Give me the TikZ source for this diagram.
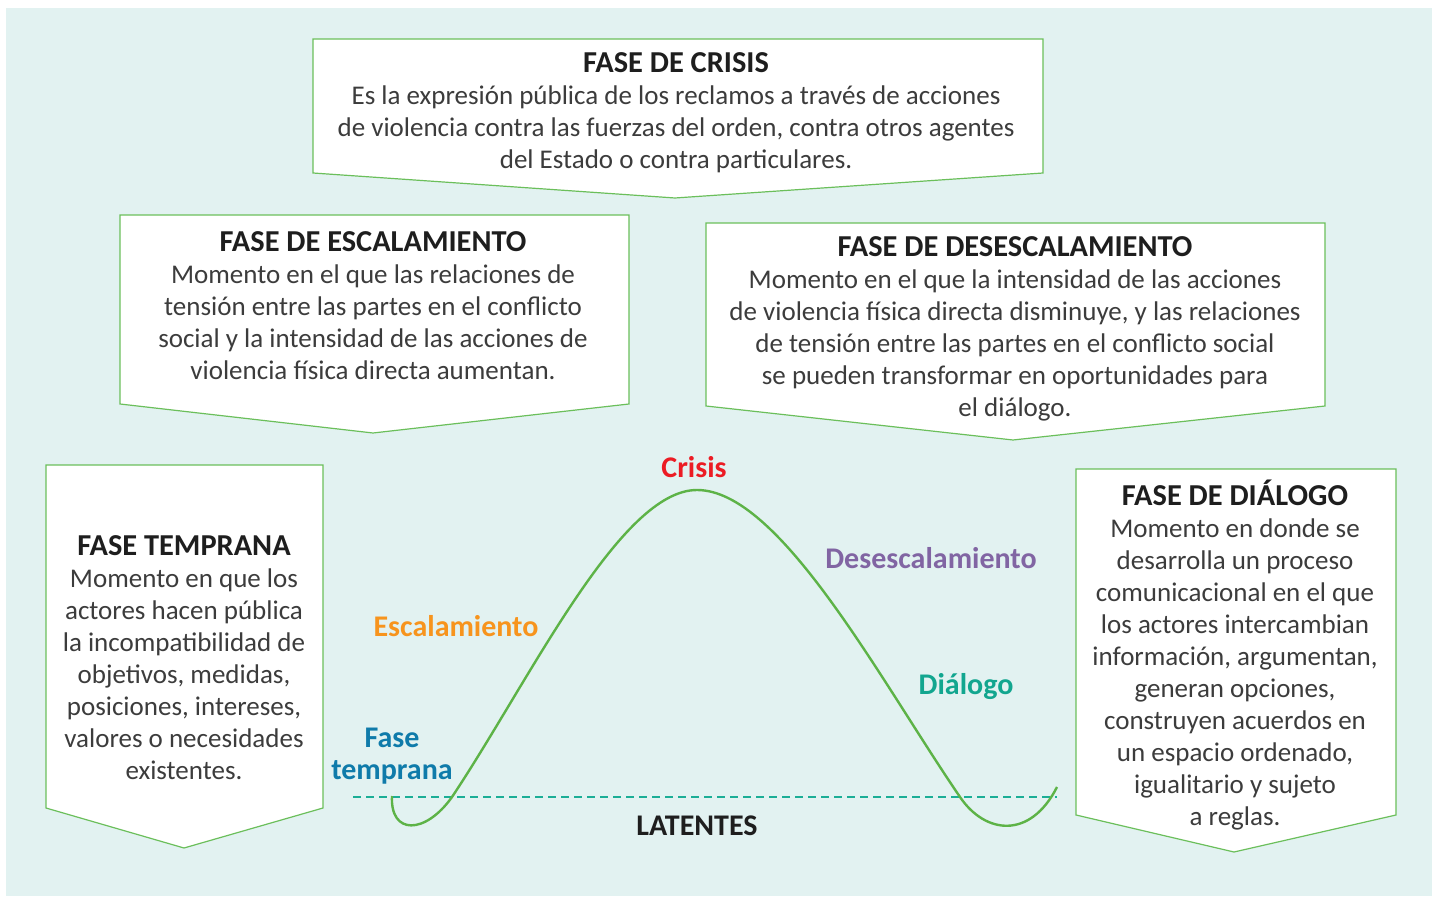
\documentclass[tikz,border=0pt]{standalone}
\usepackage{fontspec}
\setmainfont{Carlito}
\usepackage{xcolor}
\usetikzlibrary{positioning}

\definecolor{bgmint}{HTML}{E2F2F1}
\definecolor{boxgreen}{HTML}{6BBF5B}
\definecolor{curvegreen}{HTML}{5DB347}
\definecolor{dashteal}{HTML}{1BAE96}
\definecolor{crisisred}{HTML}{EC1C24}
\definecolor{escorange}{HTML}{F7941D}
\definecolor{desespurple}{HTML}{8165A3}
\definecolor{dialteal}{HTML}{12A68F}
\definecolor{tempblue}{HTML}{0F7BAA}
\definecolor{inkgray}{HTML}{3C3C3C}
\definecolor{titleink}{HTML}{1E1E1E}

\newcommand{\fasetitulo}[1]{{\fontsize{15.2}{16}\selectfont\bfseries\color{titleink}#1}}

\begin{document}
\begin{tikzpicture}[
            x=0.5pt, y=-0.5pt,
            phasebox/.style={draw=boxgreen, fill=white, line width=0.6pt},
            phasetext/.style={align=center, text=inkgray, inner sep=0pt,
            font=\fontsize{13.5}{16}\selectfont},
            stagelbl/.style={inner sep=0pt, align=center,
            font=\fontsize{15}{16}\selectfont\bfseries},
            riskcurve/.style={draw=curvegreen, line width=1.2pt},
            latent/.style={draw=dashteal, line width=1pt, dash pattern=on 4pt off 2.5pt}
        ]
\useasboundingbox (0,0) rectangle (1434,898);
\fill[bgmint] (6,8) rectangle (1432,896);
% phase boxes
            \draw[phasebox] (313,39) -- (1043,39) -- (1043,173) -- (675,198) -- (313,173) -- cycle;
            \draw[phasebox] (120,215) -- (629,215) -- (629,404) -- (373,433) -- (120,404) -- cycle;
            \draw[phasebox] (706,223) -- (1325,223) -- (1325,406) -- (1013,440) -- (706,406) -- cycle;
            \draw[phasebox] (46,465) -- (323,465) -- (323,808) -- (184,848) -- (46,808) -- cycle;
            \draw[phasebox] (1076,469) -- (1396,469) -- (1396,815) -- (1234,852) -- (1076,815) -- cycle;
% box texts
            \node[phasetext] (txcri) at (676,113) {\fasetitulo{FASE DE CRISIS}\\
                Es la expresión pública de los reclamos a través de acciones\\
                de violencia contra las fuerzas del orden, contra otros agentes\\
                del Estado o contra particulares.};
            \node[phasetext] (txesc) at (373,306) {\fasetitulo{FASE DE ESCALAMIENTO}\\
                Momento en el que las relaciones de\\
                tensión entre las partes en el conflicto\\
                social y la intensidad de las acciones de\\
                violencia física directa aumentan.};
            \node[phasetext] (txdes) at (1015,329) {\fasetitulo{FASE DE DESESCALAMIENTO}\\
                Momento en el que la intensidad de las acciones\\
                de violencia física directa disminuye, y las relaciones\\
                de tensión entre las partes en el conflicto social\\
                se pueden transformar en oportunidades para\\
                el diálogo.};
            \node[phasetext] (txtem) at (184,658) {\fasetitulo{FASE TEMPRANA}\\
                Momento en que los\\
                actores hacen pública\\
                la incompatibilidad de\\
                objetivos, medidas,\\
                posiciones, intereses,\\
                valores o necesidades\\
                existentes.};
            \node[phasetext] (txdia) at (1235,655) {\fasetitulo{FASE DE DIÁLOGO}\\
                Momento en donde se\\
                desarrolla un proceso\\
                comunicacional en el que\\
                los actores intercambian\\
                información, argumentan,\\
                generan opciones,\\
                construyen acuerdos en\\
                un espacio ordenado,\\
                igualitario y sujeto\\
                a reglas.};
% conflict curve
            \draw[latent] (353,797) -- (1057,797);
            \draw[riskcurve] (392,796) .. controls (390,835) and (425,835) .. (452,797)
                .. controls (530,680) and (620,490) .. (697,490)
                .. controls (780,490) and (880,680) .. (960,797)
                .. controls (985,834) and (1030,840) .. (1057,787);
% stage labels
            \node[stagelbl, text=crisisred]   (crisis) at (694,467) {Crisis};
            \node[stagelbl, text=desespurple] (deses)  at (931,558) {Desescalamiento};
            \node[stagelbl, text=escorange]   (escal)  at (456,626) {Escalamiento};
            \node[stagelbl, text=dialteal]    (dialo)  at (966,687) {Diálogo};
            \node[stagelbl, text=tempblue]    (tempr)  at (392,756) {Fase\\temprana};
            \node[stagelbl, text=titleink]    (laten)  at (697,826) {LATENTES};
        \end{tikzpicture}
\end{document}
